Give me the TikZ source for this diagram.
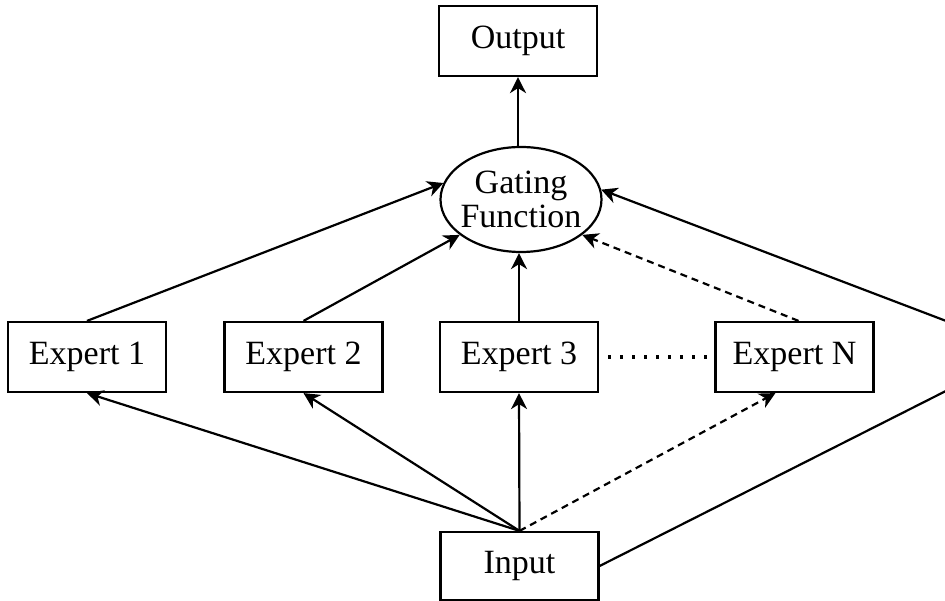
\documentclass[tikz,border=0pt]{standalone}
\usepackage{fontspec}
\setmainfont{Liberation Serif}
\usetikzlibrary{arrows.meta,shapes.geometric}
\begin{document}
\begin{tikzpicture}[x=1pt,y=-1pt,
  box/.style={draw, line width=2.2pt, minimum width=158pt, minimum height=70pt, inner sep=0pt, font=\fontsize{34}{34}\selectfont},
  gatebox/.style={draw, ellipse, line width=2.2pt, minimum width=161pt, minimum height=105pt, inner sep=0pt},
  gatetext/.style={align=center, inner sep=0pt, font=\fontsize{34}{34}\selectfont},
  conn/.style={line width=2.2pt, -{Stealth[length=16pt,width=16pt,inset=5pt]}},
  dashconn/.style={conn, dash pattern=on 7pt off 5pt},
  dotline/.style={line width=3.5pt, dash pattern=on 3pt off 9pt}
]
\fill[white] (0,0) rectangle (945,601);
\useasboundingbox (0,0) rectangle (945,601);
\clip (0,0) rectangle (945,601);

\node[box] (out) at (518,41) {Output};
\node[gatebox] (gate) at (521,199.5) {};
\node[gatetext] (gatelabel) at (521,199.5) {Gating\\Function};
\node[box] (e1) at (87,357) {Expert 1};
\node[box] (e2) at (303.5,357) {Expert 2};
\node[box] (e3) at (519,357) {Expert 3};
\node[box] (eN) at (794.5,357) {Expert N};
\node[box, minimum height=68pt] (in) at (519.5,566) {Input};
\coordinate (corner) at (1025,351);

\draw[conn] (out.south |- gate.north) -- (out.south);
\draw[conn] (e1.north) -- (gate.168);
\draw[conn] (e2.north) -- (gate.210);
\draw[conn] (e3.north) -- (e3.north |- gate.south);
\draw[dashconn] ([xshift=4pt]eN.north) -- (gate.330);

\draw[conn] (in.north) -- (e1.south);
\draw[conn] (in.north) -- (e2.south);
\draw[conn] (in.north) -- (e3.south);
\draw[dashconn] (in.north) -- ([xshift=61pt]eN.south west);
\draw[conn] (in.east) -- (corner) -- (gate.7);

\draw[dotline, shorten <=9pt, shorten >=7pt] (e3.east) -- (eN.west);
\end{tikzpicture}
\end{document}
